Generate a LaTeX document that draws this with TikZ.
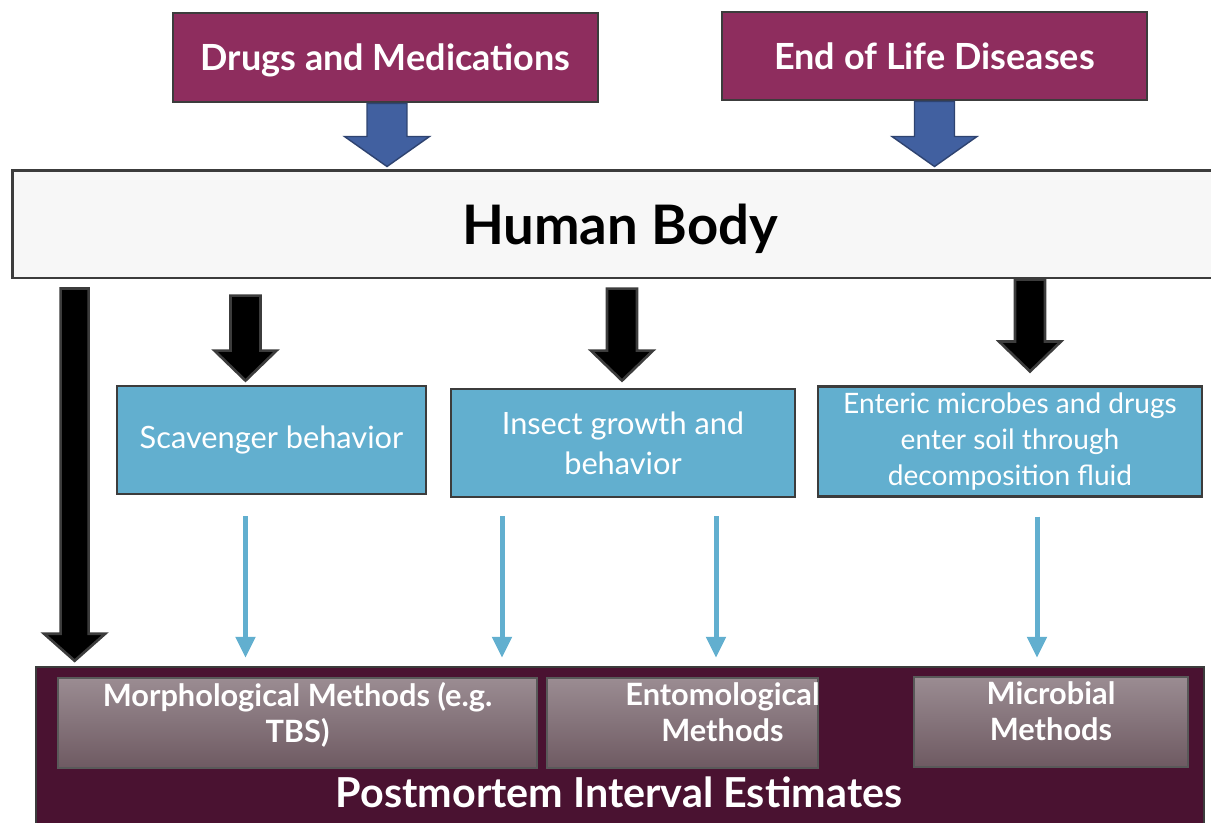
\documentclass[tikz,border=0pt]{standalone}
\usepackage{fontspec}
\setmainfont{Lato}
\usetikzlibrary{positioning, calc, arrows.meta}
\definecolor{plum}{RGB}{142,45,94}
\definecolor{wine}{RGB}{74,18,49}
\definecolor{edgegray}{RGB}{60,60,60}
\definecolor{flowblue}{RGB}{65,96,160}
\definecolor{procblue}{RGB}{98,175,207}
\definecolor{methtop}{RGB}{155,140,146}
\definecolor{methbot}{RGB}{110,90,98}
\tikzset{
	source/.style={
		draw=edgegray,
		line width=1.6pt,
		fill=plum,
		text=white,
		text depth=0pt,
		font=\fontsize{20.5}{24}\selectfont\bfseries,
		minimum width=8.5cm,
		minimum height=1.78cm
	},
	bodybox/.style={
		draw=edgegray,
		line width=1.7pt,
		fill=black!3,
		text depth=0pt,
		font=\fontsize{31}{36}\selectfont\bfseries,
		minimum width=24.32cm,
		minimum height=2.16cm
	},
	process/.style={
		draw=edgegray,
		line width=1.6pt,
		fill=procblue,
		text=white,
		align=center,
		font=\fontsize{17.5}{23}\selectfont,
		minimum height=2.16cm
	},
	estimate/.style={
		draw=edgegray,
		line width=1.4pt,
		fill=wine,
		minimum width=23.36cm,
		minimum height=3.36cm
	},
	method/.style={
		draw=black!65,
		line width=1pt,
		top color=methtop,
		bottom color=methbot,
		minimum height=1.8cm
	},
	methodtext/.style={
		anchor=north,
		inner sep=0pt,
		yshift=-3pt,
		text=white,
		align=center,
		font=\fontsize{17.5}{20.5}\selectfont\bfseries
	},
	heavy/.style={fill=black, draw=edgegray, line width=1.5pt},
	feed/.style={fill=flowblue, draw=flowblue!70!black, line width=0.8pt},
	thinflow/.style={draw=procblue, line width=0.1cm, -{Triangle[width=0.38cm,length=0.42cm]}}
}
% block arrow: style, from, to, half shaft, half head, head length
\newcommand{\blockarrow}[6]{%
	\draw[#1] let \p1=#2, \p2=#3 in
		({\x1-#4},\y1) -- ({\x1+#4},\y1) -- ({\x1+#4},{\y2+#6})
		-- ({\x1+#5},{\y2+#6}) -- (\x1,\y2) -- ({\x1-#5},{\y2+#6})
		-- ({\x1-#4},{\y2+#6}) -- cycle;}

\begin{document}
\begin{tikzpicture}[x=0.02cm, y=-0.02cm]
	\useasboundingbox (0,0) rectangle (1211,822);
	
	% sources
	\node[source] (drugs) at (385.5,57.5) {Drugs and Medications};
	\node[source, minimum height=1.76cm] (eol) at (934.5,56) {End of Life Diseases};
	
	\node[bodybox] (body) at (620,224) {Human Body};
	
	% processes
	\node[process, minimum width=6.18cm] (scav) at (271.5,440) {Scavenger behavior};
	\node[process, minimum width=6.88cm] (insect) at (623,443) {Insect growth and\\behavior};
	\node[process, minimum width=7.68cm, minimum height=2.18cm, font=\fontsize{16}{20.5}\selectfont] (enteric) at (1010,441.5) {Enteric microbes and drugs\\enter soil through\\decomposition fluid};
	
	% estimates
	\node[estimate] (pmi) at (620,751) {};
	\node[method, minimum width=9.58cm, label={[methodtext]north:{Morphological Methods (e.g.\\TBS)}}] (morph) at (297.5,723) {};
	\node[method, minimum width=5.42cm, label={[methodtext, xshift=40*0.02cm]north:{Entomological\\Methods}}] (ento) at (682.5,723) {};
	\node[method, minimum width=5.48cm, label={[methodtext]north:{Microbial\\Methods}}] (micro) at (1051,722) {};
	\node[text=white, font=\fontsize{23.5}{28}\selectfont\bfseries] (pmilabel) at (619,792) {Postmortem Interval Estimates};
	
	% inputs into the body
	\blockarrow{feed}{($(drugs.south)+(1.5,0)$)}{($(drugs.south |- body.north)+(1.5,-2)$)}{0.4cm}{0.85cm}{0.6cm}
	\blockarrow{feed}{(eol.south)}{($(eol.south |- body.north)+(0,-2)$)}{0.4cm}{0.85cm}{0.6cm}
	
	% body -> processes
	\coordinate (a1s) at ($(body.south west)+(64,9)$);
	\coordinate (a2s) at ($(scav.north)+(-26,-89)$);
	\coordinate (a3s) at ($(insect.north)+(-1,-99)$);
	\coordinate (a4s) at ($(enteric.north)+(20,-106)$);
	\blockarrow{heavy}{(a1s)}{($(a1s |- pmi.north)+(0,-5)$)}{0.28cm}{0.61cm}{0.54cm}
	\blockarrow{heavy}{(a2s)}{($(scav.north)+(-26,-4)$)}{0.3cm}{0.62cm}{0.6cm}
	\blockarrow{heavy}{(a3s)}{($(insect.north)+(-1,-7)$)}{0.3cm}{0.62cm}{0.6cm}
	\blockarrow{heavy}{(a4s)}{($(enteric.north)+(20,-14)$)}{0.3cm}{0.62cm}{0.6cm}
	
	% processes -> estimates
	\coordinate (c1) at ($(scav.south)+(-26,21)$);
	\coordinate (c2) at ($(insect.south)+(-121,18)$);
	\coordinate (c3) at ($(insect.south)+(93,18)$);
	\coordinate (c4) at ($(enteric.south)+(27,19)$);
	\foreach \c in {c1,c2,c3,c4} {
		\draw[thinflow] (\c) -- ($(\c |- pmi.north)+(0,-8)$);
	}
\end{tikzpicture}
\end{document}
